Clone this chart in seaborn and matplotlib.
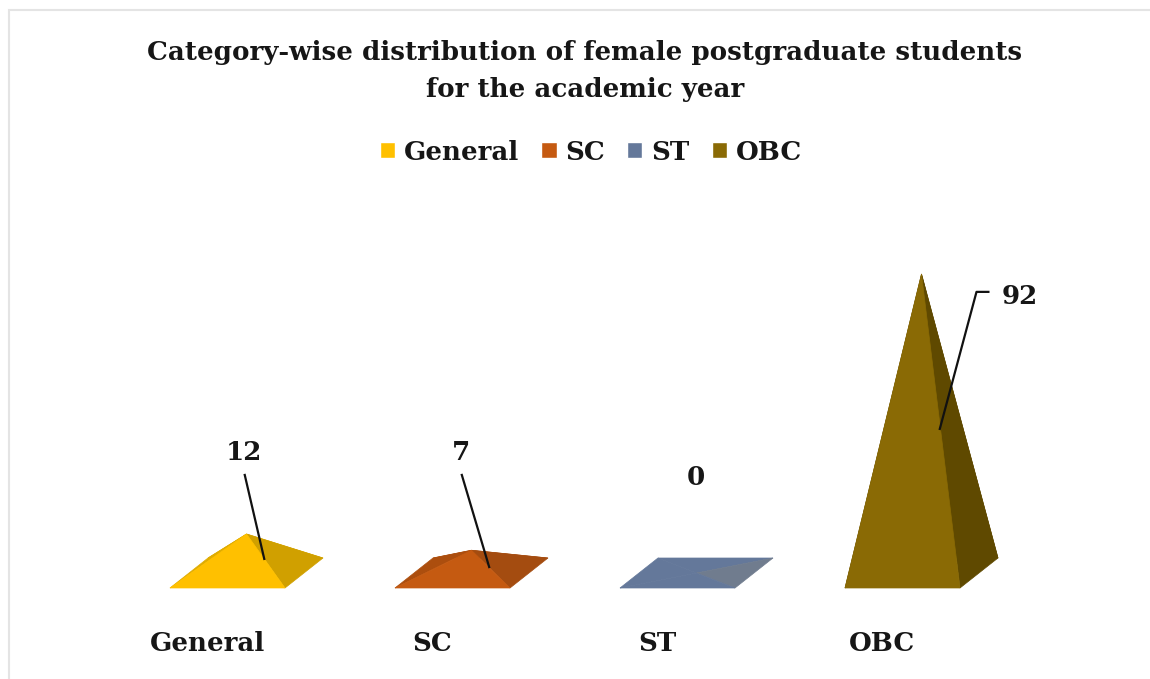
import matplotlib
matplotlib.use('Agg')
import matplotlib.pyplot as plt
import pandas as pd
import seaborn as sns
from matplotlib.patches import Polygon, Rectangle

categories = ['General', 'SC', 'ST', 'OBC']
students = [12, 7, 0, 92]
front_colors = ['#FFC000', '#C55A11', '#64789A', '#8A6A05']
side_colors = ['#D0A000', '#A44C10', '#707C8E', '#5F4900']
left_colors = ['#E0AC00', '#AC4E0E', '#64789A', '#5F4900']

# figure is laid out in pixels, these convert them to data units
PX_X = 1 / 225
PX_Y = 1 / 3.25
DEPTH_X = 38 * PX_X
DEPTH_Y = 30 * PX_Y

sns.set_theme(style='white')
plt.rcParams['font.family'] = ['DejaVu Serif']
plt.rcParams['font.weight'] = 'bold'
TEXT = '#161616'
FS = 18.8

df = pd.DataFrame({'category': categories, 'students': students})

fig = plt.figure(figsize=(11.5, 6.79), dpi=100)
ax = fig.add_axes([0, 79 / 679, 1, 600 / 679])
sns.barplot(data=df, x='category', y='students', hue='category', hue_order=categories,
            palette=front_colors, saturation=1, width=115 * PX_X, legend=True, ax=ax)
sns.move_legend(ax, 'center', bbox_to_anchor=(591 / 1150, 1 - 152 / 679), bbox_transform=fig.transFigure,
                ncol=4, frameon=False, title=None, fontsize=FS, handlelength=0.58, handleheight=0.58,
                handletextpad=0.34, columnspacing=0.85, labelcolor=TEXT)

# swap each bar for a pyramid with the same position and height
for i, cont in enumerate(ax.containers):
    bar = cont[0]
    x0 = bar.get_x() + 20 * PX_X
    w = bar.get_width()
    h = bar.get_height()
    bar.set_visible(False)
    fl = (x0, -DEPTH_Y / 2)
    fr = (x0 + w, -DEPTH_Y / 2)
    br = (x0 + w + DEPTH_X, DEPTH_Y / 2)
    bl = (x0 + DEPTH_X, DEPTH_Y / 2)
    apex = (x0 + w / 2 + DEPTH_X / 2, h)
    ax.add_patch(Polygon([bl, br, apex], color=left_colors[i], lw=0.5))
    ax.add_patch(Polygon([fl, bl, apex], color=left_colors[i], lw=0.5))
    ax.add_patch(Polygon([fr, br, apex], color=side_colors[i], lw=0.5))
    ax.add_patch(Polygon([fl, fr, apex], color=front_colors[i], lw=0.5))

# data labels with their leader lines, offsets from the tick position
label_dx = [36, 29, 38, 137]
label_y = [37, 37, 29.5, 85]
leader_dx = [37, 29]
for i, v in enumerate(students):
    ax.text(i + label_dx[i] * PX_X, label_y[i], str(v), ha='center', va='center',
            fontsize=FS, color=TEXT)
    end = (i + 57 * PX_X, v / 2 - 2)
    if v == 0:
        continue
    if v > 50:
        xs = [i + 107 * PX_X, i + 94 * PX_X, end[0]]
        ys = [86.5, 86.5, end[1]]
    else:
        xs = [i + leader_dx[i] * PX_X, end[0]]
        ys = [30.5, end[1]]
    ax.plot(xs, ys, color='#111111', lw=1.6, solid_capstyle='butt')

ax.set_xlim(-207.5 * PX_X, 942.5 * PX_X)
ax.set_ylim(-27 * PX_Y, 573 * PX_Y)
ax.set_xlabel('')
ax.set_ylabel('')
ax.set_yticks([])
ax.tick_params(axis='x', length=0, pad=22, labelsize=FS, labelcolor=TEXT)
sns.despine(ax=ax, left=True, bottom=True)
ax.patch.set_alpha(0)

fig.suptitle('Category-wise distribution of female postgraduate students\nfor the academic year',
             x=585 / 1150, y=1 - 71 / 679, va='center', fontsize=FS, fontweight='bold',
             color=TEXT, linespacing=1.6)

# pale frame of the original chart area, open on the right and bottom
fig.add_artist(Rectangle((9 / 1150, -0.1), 1.2, 1.1 - 10 / 679, transform=fig.transFigure,
                         fill=False, ec='#E4E4E4', lw=1.5))

fig.savefig('out.png', dpi=100)
